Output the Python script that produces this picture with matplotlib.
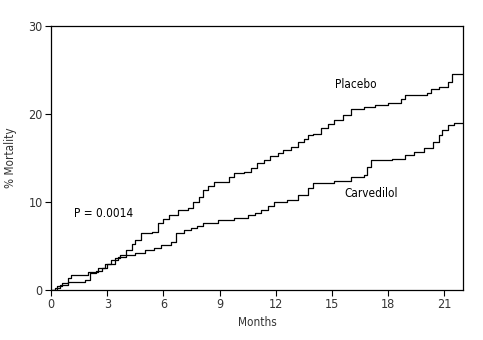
import matplotlib
matplotlib.use("Agg")
import matplotlib.pyplot as plt

plt.rcParams['font.family'] = ['DejaVu Sans']
plt.rcParams['font.stretch'] = 'condensed'

# data (months, % mortality)
placebo_t = [0, 0.2, 0.5, 0.9, 1.8, 2.1, 2.4, 2.7, 3.0, 3.4, 3.7, 4.0, 4.3, 4.5, 4.8, 5.4,
             5.7, 6.0, 6.3, 6.8, 7.3, 7.6, 7.9, 8.1, 8.4, 8.7, 9.3, 9.5, 9.75, 10.3, 10.7,
             11.0, 11.4, 11.7, 12.1, 12.4, 12.8, 13.2, 13.5, 13.7, 14.0, 14.4, 14.8, 15.1,
             15.6, 16.0, 16.7, 17.3, 18.0, 18.7, 18.9, 20.1, 20.3, 20.7, 21.2, 21.4, 22.0]
placebo_y = [0, 0.2, 0.57, 0.9, 1.1, 1.9, 2.2, 2.5, 2.9, 3.6, 4.0, 4.5, 5.2, 5.7, 6.5, 6.6,
             7.6, 8.1, 8.5, 9.1, 9.3, 10.0, 10.6, 11.4, 11.8, 12.3, 12.3, 12.8, 13.3, 13.4, 13.9,
             14.4, 14.8, 15.2, 15.6, 15.9, 16.3, 16.8, 17.2, 17.6, 17.7, 18.4, 18.9, 19.3,
             19.9, 20.6, 20.8, 21.0, 21.2, 21.7, 22.2, 22.4, 22.8, 23.1, 23.6, 24.5, 24.5]

carv_t = [0, 0.3, 0.6, 0.9, 1.07, 2.0, 2.5, 2.9, 3.2, 3.6, 4.0, 4.5, 5.0, 5.5, 5.9, 6.4,
          6.7, 7.1, 7.45, 7.8, 8.1, 8.9, 9.75, 10.5, 10.9, 11.2, 11.6, 11.9, 12.6, 13.2,
          13.7, 14.0, 15.1, 16.0, 16.7, 16.9, 17.1, 18.2, 18.9, 19.4, 19.9, 20.4, 20.7,
          20.9, 21.2, 21.5, 22.0]
carv_y = [0, 0.4, 0.8, 1.36, 1.7, 2.0, 2.5, 2.9, 3.4, 3.8, 4.0, 4.2, 4.5, 4.8, 5.1, 5.45,
          6.5, 6.8, 7.0, 7.3, 7.6, 7.9, 8.2, 8.5, 8.8, 9.1, 9.6, 10.0, 10.2, 10.8,
          11.6, 12.2, 12.4, 12.8, 13.1, 14.0, 14.8, 14.9, 15.3, 15.7, 16.1, 16.8, 17.6,
          18.2, 18.75, 19.0, 19.0]

xticks = [0, 3, 6, 9, 12, 15, 18, 21]
yticks = [0, 10, 20, 30]

fig = plt.figure(figsize=(4.83, 3.40), dpi=100)
ax = fig.add_axes([0.1056, 0.147, 0.853, 0.7765])

ax.step(placebo_t, placebo_y, where='post', color='black', lw=0.9)
ax.step(carv_t, carv_y, where='post', color='black', lw=0.9)

ax.text(16.3, 23.4, "Placebo", fontsize=8.5, ha='center', va='center')
ax.text(17.1, 11.0, "Carvedilol", fontsize=8.5, ha='center', va='center')
ax.text(2.8, 8.75, "P = 0.0014", fontsize=8.5, ha='center', va='center')

ax.set_xlim(0, 22)
ax.set_ylim(0, 30)
ax.set_xticks(xticks)
ax.set_yticks(yticks)
ax.tick_params(direction='out', length=4, width=0.8, labelsize=9, pad=2,
               labelcolor='#333333')
for s in ax.spines.values():
    s.set_linewidth(0.9)

ax.set_xlabel("Months", fontsize=8.5, labelpad=3, color='#333333')
ax.set_ylabel("% Mortality", fontsize=8.5, labelpad=8, color='#333333')

fig.savefig("out.png", dpi=100)
